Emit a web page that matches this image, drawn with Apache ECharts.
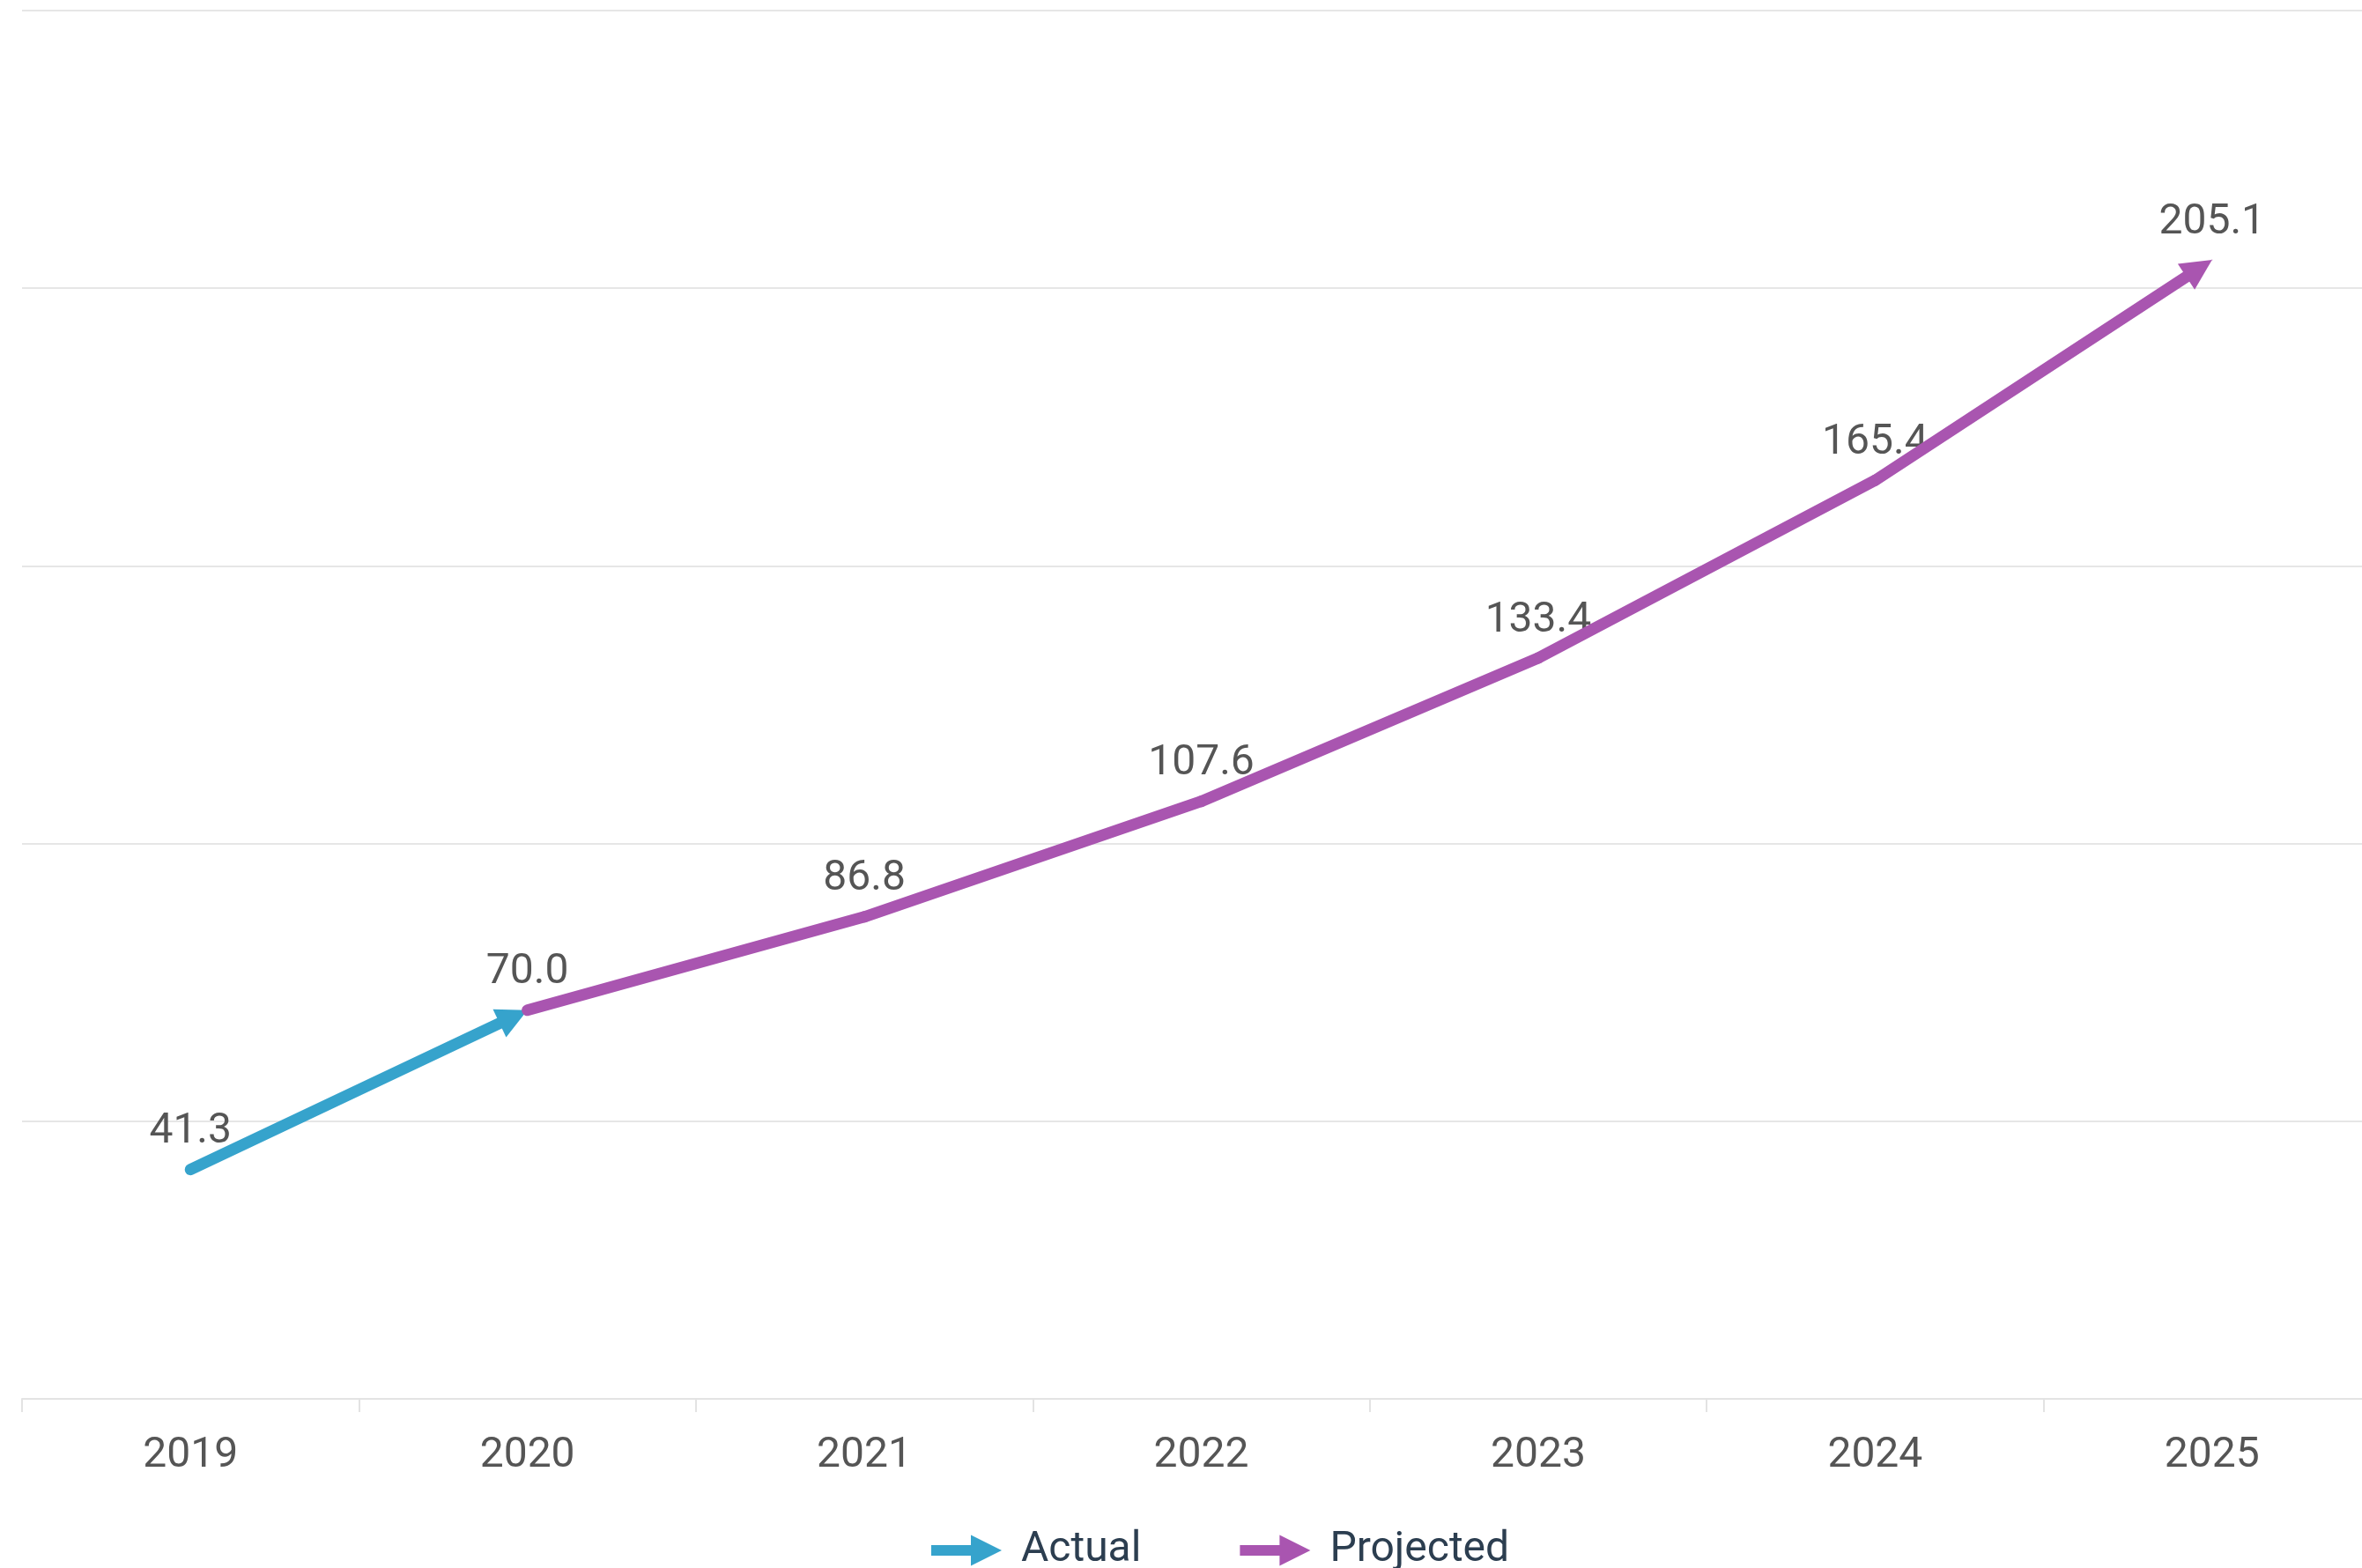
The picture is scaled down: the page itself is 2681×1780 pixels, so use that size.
<!DOCTYPE html>
<html>
<head>
<meta charset="utf-8">
<style>
  html, body { margin: 0; padding: 0; background: #ffffff; overflow: hidden; }
  /* plot area runs a little past the right edge of the page */
  #chart { width: 2702px; height: 1780px; }
</style>
<script src="https://cdn.jsdelivr.net/npm/echarts@6/dist/echarts.min.js"></script>
</head>
<body>
<div id="chart"></div>
<script>
// Years on the category axis
const years = ['2019', '2020', '2021', '2022', '2023', '2024', '2025'];
// Reported values (2019–2020) and forecast values (2020–2025)
const actualValues = [41.3, 70.0, null, null, null, null, null];
const projectedValues = [null, 70.0, 86.8, 107.6, 133.4, 165.4, 205.1];
// Value axis range
const yMin = 0;
const yMax = 250;
const yStep = 50;

const COLOR_ACTUAL = '#36a3cc';
const COLOR_PROJECTED = '#a955b0';
const FONT = 'Roboto, "Noto Sans", sans-serif';
const LINE_WIDTH = 13;
const HEAD_W = 35;   // arrow head base width
const HEAD_L = 35;   // arrow head length

// Legend arrow glyph: shaft plus triangular head
const arrowIcon = 'path://M0,11.5 L45,11.5 L45,0 L80,17.5 L45,35 L45,23.5 L0,23.5 Z';

function lastIndex(values) {
  let k = -1;
  values.forEach((v, i) => { if (v != null) k = i; });
  return k;
}

// Consecutive point pairs of a series: [i, v_i, i+1, v_(i+1), isLastSegment]
function segments(values) {
  const out = [];
  const e = lastIndex(values);
  for (let i = 0; i < values.length - 1; i++) {
    if (values[i] != null && values[i + 1] != null) {
      out.push([i, values[i], i + 1, values[i + 1], i + 1 === e ? 1 : 0]);
    }
  }
  return out;
}

const labelStyle = {
  show: true,
  position: 'top',
  distance: 18,
  color: '#555555',
  fontFamily: FONT,
  fontSize: 48,
  lineHeight: 48,
  formatter: p => Number(p.value).toFixed(1)
};

// Actual: the hand-off point shared with the forecast is labelled only once
const actualData = actualValues.map((v, i) =>
  (v != null && i === lastIndex(actualValues)) ? { value: v, label: { show: false } } : v
);

// Line series carry the legend entries and the value labels
function lineSeries(name, data, color) {
  return {
    name: name,
    type: 'line',
    data: data,
    connectNulls: false,
    symbol: 'circle',
    symbolSize: 1,
    showSymbol: true,
    itemStyle: { color: color },
    lineStyle: { color: color, width: 0 },
    label: labelStyle,
    emphasis: { disabled: true },
    z: 1
  };
}

// Thick stroke with an arrow head on the final segment
function arrowLineSeries(id, values, color, z) {
  return {
    id: id,
    type: 'custom',
    silent: true,
    z: z,
    encode: { x: [0, 2], y: [1, 3] },
    data: segments(values),
    renderItem: function (params, api) {
      const p0 = api.coord([api.value(0), api.value(1)]);
      const p1 = api.coord([api.value(2), api.value(3)]);
      const isLast = api.value(4) === 1;
      const children = [];
      let end = p1;
      let head = null;
      if (isLast) {
        const dx = p1[0] - p0[0], dy = p1[1] - p0[1];
        const len = Math.hypot(dx, dy);
        const ux = dx / len, uy = dy / len;
        const nx = -uy, ny = ux;
        end = [p1[0] - ux * HEAD_L * 0.7, p1[1] - uy * HEAD_L * 0.7];
        const bx = p1[0] - ux * HEAD_L, by = p1[1] - uy * HEAD_L;
        head = [
          [p1[0], p1[1]],
          [bx + nx * HEAD_W / 2, by + ny * HEAD_W / 2],
          [bx - nx * HEAD_W / 2, by - ny * HEAD_W / 2]
        ];
      }
      children.push({
        type: 'line',
        shape: { x1: p0[0], y1: p0[1], x2: end[0], y2: end[1] },
        style: { stroke: color, lineWidth: LINE_WIDTH, lineCap: 'round', fill: null }
      });
      if (head) {
        children.push({
          type: 'polygon',
          shape: { points: head },
          style: { fill: color }
        });
      }
      return { type: 'group', children: children };
    }
  };
}

const chart = echarts.init(document.getElementById('chart'), null, { renderer: 'canvas' });

chart.setOption({
  backgroundColor: '#ffffff',
  animation: false,
  grid: { left: 25, right: 0, top: 12, bottom: 192, containLabel: false },
  legend: {
    top: 1730,
    left: 1052,
    itemWidth: 80,
    itemHeight: 35,
    itemGap: 112,
    selectedMode: false,
    textStyle: {
      color: '#2c3e50',
      fontFamily: FONT,
      fontSize: 48,
      lineHeight: 50,
      padding: [0, 0, 0, 17]
    },
    data: [
      { name: 'Actual', icon: arrowIcon, itemStyle: { color: COLOR_ACTUAL } },
      { name: 'Projected', icon: arrowIcon, itemStyle: { color: COLOR_PROJECTED } }
    ]
  },
  xAxis: {
    type: 'category',
    data: years,
    boundaryGap: true,
    axisLine: { show: true, lineStyle: { color: '#e3e3e3', width: 2 } },
    axisTick: { show: true, length: 15, lineStyle: { color: '#e3e3e3', width: 2 } },
    axisLabel: {
      color: '#555555',
      fontFamily: FONT,
      fontSize: 48,
      lineHeight: 48,
      margin: 41
    },
    splitLine: { show: false }
  },
  yAxis: {
    type: 'value',
    min: yMin,
    max: yMax,
    interval: yStep,
    axisLine: { show: false },
    axisTick: { show: false },
    axisLabel: { show: false },
    splitLine: { show: true, lineStyle: { color: '#e6e6e6', width: 2 } }
  },
  series: [
    lineSeries('Actual', actualData, COLOR_ACTUAL),
    lineSeries('Projected', projectedValues, COLOR_PROJECTED),
    arrowLineSeries('strokeActual', actualValues, COLOR_ACTUAL, 2),
    arrowLineSeries('strokeProjected', projectedValues, COLOR_PROJECTED, 3)
  ]
});
</script>
</body>
</html>
